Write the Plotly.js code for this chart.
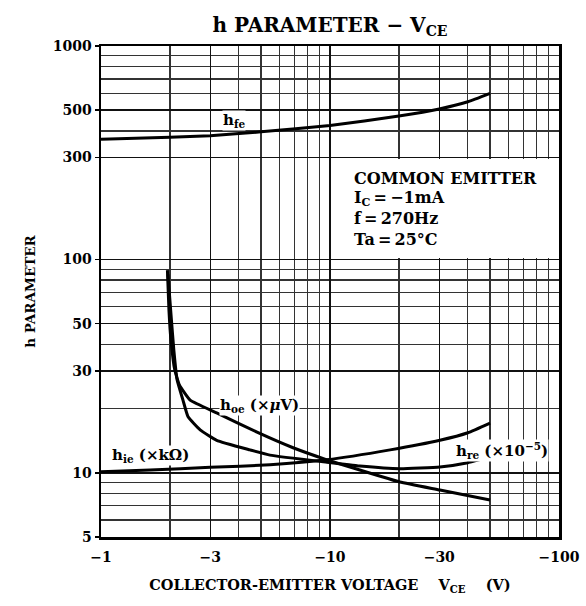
<!DOCTYPE html>
<html>
<head>
<meta charset="utf-8">
<script src="https://cdn.plot.ly/plotly-3.0.1.min.js"></script>
<style>html,body{margin:0;padding:0;background:#fff;}#chart{width:586px;height:606px;}</style>
</head>
<body>
<div id="chart"></div>
<script>
// |VCE| in volts (axis labelled with negative values)
const hfeV   = [1, 2, 3, 5, 10, 20, 30, 40, 50];
const hfeVal = [366, 374, 380, 396, 424, 470, 507, 548, 600];

const hoeV   = [1.95, 1.98, 2.02, 2.1, 2.2, 2.45, 3.2, 4.8, 6.9, 9.7, 13.5, 20.2, 30.2, 50];
const hoeVal = [89, 58, 42, 30.3, 25.8, 21.9, 19.1, 15.5, 13.1, 11.5, 10.3, 9.05, 8.3, 7.45];

const hreV   = [1.96, 2.03, 2.08, 2.15, 2.28, 2.4, 2.71, 3.2, 4.47, 5.47, 9.7, 13.5, 20.2, 30.2, 40, 50];
const hreVal = [85, 52, 37.6, 27.2, 21.9, 18.3, 15.9, 14.2, 12.8, 12.1, 11.2, 10.75, 10.45, 10.65, 11.15, 11.9];

const hieV   = [1, 1.64, 3.0, 5.47, 9.7, 18.3, 30.2, 40, 50];
const hieVal = [10.1, 10.3, 10.6, 10.9, 11.5, 12.8, 14.2, 15.4, 17.1];

const xTickVals  = [1, 3, 10, 30, 100];
const xTickText  = ['\u22121', '\u22123', '\u221210', '\u221230', '\u2212100'];
const xMinorVals = [2, 4, 5, 6, 7, 8, 9, 20, 40, 50, 60, 70, 80, 90];
const yTickVals  = [5, 10, 30, 50, 100, 300, 500, 1000];
const yTickText  = ['5', '10', '30', '50', '100', '300', '500', '1000'];
const yMinorVals = [6, 7, 8, 9, 20, 40, 60, 70, 80, 90, 400, 600, 700, 800, 900];

const FONT = 'DejaVu Serif, Liberation Serif, serif';
const lineStyle = {color: '#000', width: 3, shape: 'spline', smoothing: 0.4};

function tr(x, y, name) {
  return {x: x, y: y, type: 'scatter', mode: 'lines', line: lineStyle, name: name, hoverinfo: 'skip'};
}
const traces = [
  tr(hfeV, hfeVal, 'hfe'),
  tr(hoeV, hoeVal, 'hoe'),
  tr(hreV, hreVal, 'hre'),
  tr(hieV, hieVal, 'hie')
];

// pixel -> paper helpers for label placement (plot area 101..559 x 46..537)
const px = p => (p - 101) / 458;
const py = p => (537 - p) / 491;

function lab(text, x, y, xanchor, size) {
  return {text: text, xref: 'paper', yref: 'paper', x: px(x), y: py(y), xanchor: xanchor || 'center', yanchor: 'middle',
          showarrow: false, font: {family: FONT, size: size || 15, color: '#000', weight: 'bold'}, bgcolor: '#fff', borderpad: 0};
}

const layout = {
  width: 586, height: 606,
  margin: {l: 101, r: 27, t: 46, b: 69},
  paper_bgcolor: '#fff', plot_bgcolor: '#fff',
  showlegend: false,
  font: {family: FONT, color: '#000'},
  title: {text: 'h PARAMETER \u2212 V<sub>CE</sub>', x: 0.5, xref: 'paper', xanchor: 'center', y: 1 - 25/606, yref: 'container', yanchor: 'middle',
          font: {family: FONT, size: 20, color: '#000', weight: 'bold'}},
  xaxis: {
    type: 'log', range: [0, 2],
    tickmode: 'array', tickvals: xTickVals, ticktext: xTickText,
    ticks: '', ticklabelstandoff: 6,
    tickfont: {family: FONT, size: 14, color: '#000', weight: 'bold'},
    showgrid: true, gridcolor: '#111', gridwidth: 1.5,
    minor: {tickmode: 'array', tickvals: xMinorVals, showgrid: true, gridcolor: '#333', gridwidth: 1.2, ticks: ''},
    showline: true, mirror: true, linecolor: '#000', linewidth: 2.5,
    zeroline: false,
    title: {text: 'COLLECTOR-EMITTER VOLTAGE\u00A0\u00A0\u00A0\u00A0V<sub>CE</sub>\u00A0\u00A0\u00A0\u00A0(V)', standoff: 16,
            font: {family: FONT, size: 14.5, color: '#000', weight: 'bold'}}
  },
  yaxis: {
    type: 'log', range: [Math.log10(5), 3],
    tickmode: 'array', tickvals: yTickVals, ticktext: yTickText,
    ticks: 'outside', ticklen: 4, tickwidth: 1.5, tickcolor: '#000', ticklabelstandoff: 0,
    tickfont: {family: FONT, size: 14, color: '#000', weight: 'bold'},
    showgrid: true, gridcolor: '#111', gridwidth: 1.5,
    minor: {tickmode: 'array', tickvals: yMinorVals, showgrid: true, gridcolor: '#333', gridwidth: 1.2, ticks: ''},
    showline: true, mirror: true, linecolor: '#000', linewidth: 2.5,
    zeroline: false,
    title: {text: 'h PARAMETER', standoff: 14,
            font: {family: FONT, size: 13.5, color: '#000', weight: 'bold'}}
  },
  shapes: [
    {type: 'rect', xref: 'paper', yref: 'paper', x0: px(332), x1: px(557), y0: py(258), y1: py(159),
     fillcolor: '#fff', line: {width: 0}, layer: 'above'}
  ],
  annotations: [
    lab('h<sub>fe</sub>', 234, 121),
    lab('h<sub>oe</sub> (\u00D7<i>\u03BC</i>V)', 259, 405),
    lab('h<sub>ie</sub> (\u00D7k\u03A9)', 150, 456),
    lab('h<sub>re</sub> (\u00D710<sup>\u22125</sup>)', 502, 450),
    lab('COMMON EMITTER', 353, 179, 'left', 16),
    lab('I<sub>C</sub>\u2009=\u2009\u22121mA', 353, 198, 'left', 16),
    lab('f\u2009=\u2009270Hz', 353, 218, 'left', 16),
    lab('Ta\u2009=\u200925\u00B0C', 353, 240, 'left', 16)
  ]
};

Plotly.newPlot('chart', traces, layout, {staticPlot: true, displayModeBar: false});
</script>
</body>
</html>
